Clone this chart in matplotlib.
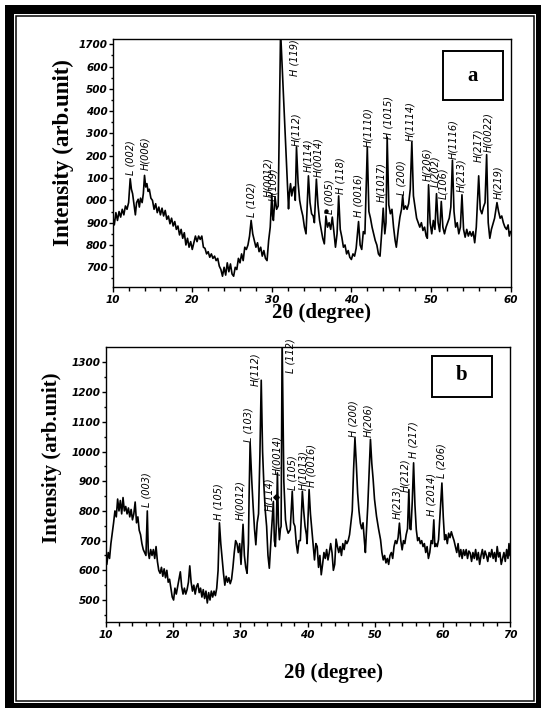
import matplotlib
matplotlib.use("Agg")
import matplotlib.pyplot as plt
from matplotlib.patches import Rectangle

W, H = 541, 708

# ---- panel a data (2theta, intensity) ----
a_x = [10.0, 10.2, 10.4, 10.6, 10.8, 11.0, 11.2, 11.4, 11.6, 11.8, 12.0, 12.2, 12.35, 12.5, 12.7, 12.85,
       13.0, 13.2, 13.35, 13.5, 13.7, 13.85, 14.0, 14.15, 14.3, 14.45, 14.6, 14.8, 15.0, 15.2, 15.4, 15.6,
       15.8, 16.0, 16.2, 16.4, 16.6, 16.8, 17.0, 17.2, 17.4, 17.6, 17.8, 18.0, 18.2, 18.4, 18.6, 18.8,
       19.0, 19.2, 19.4, 19.6, 19.8, 20.0, 20.2, 20.4, 20.6, 20.8, 21.0, 21.2, 21.4, 21.6, 21.8, 22.0,
       22.2, 22.4, 22.6, 22.8, 23.0, 23.2, 23.4, 23.6, 23.8, 24.0, 24.2, 24.4, 24.6, 24.8, 25.0, 25.2,
       25.4, 25.6, 25.8, 26.0, 26.2, 26.4, 26.6, 26.8, 27.0, 27.2, 27.4, 27.6, 27.8, 28.0, 28.2, 28.4,
       28.6, 28.8, 29.0, 29.2, 29.4, 29.6, 29.8, 30.0, 30.1, 30.2, 30.4, 30.6, 30.8, 31.1, 32.1, 32.2,
       32.35, 32.5, 32.65, 32.8, 32.95, 33.1, 33.3, 33.5, 33.7, 33.9, 34.1, 34.3, 34.6, 34.8, 35.0, 35.2,
       35.35, 35.6, 35.8, 36.0, 36.2, 36.4, 36.6, 36.8, 37.0, 37.2, 37.4, 37.6, 37.8, 38.0, 38.2, 38.4,
       38.6, 38.8, 39.0, 39.2, 39.4, 39.6, 39.8, 40.0, 40.2, 40.4, 40.6, 40.9, 41.1, 41.3, 41.5, 41.7,
       42.0, 42.2, 42.4, 42.6, 42.8, 43.0, 43.2, 43.4, 43.6, 43.8, 44.0, 44.2, 44.35, 44.5, 44.7, 44.9,
       45.1, 45.3, 45.5, 45.65, 45.9, 46.1, 46.3, 46.45, 46.6, 46.8, 47.0, 47.2, 47.4, 47.6, 47.8, 48.0,
       48.2, 48.4, 48.6, 48.8, 49.0, 49.2, 49.4, 49.55, 49.7, 49.9, 50.1, 50.3, 50.5, 50.7, 50.9, 51.1,
       51.3, 51.5, 51.7, 51.9, 52.1, 52.3, 52.5, 52.7, 52.9, 53.1, 53.3, 53.5, 53.7, 53.9, 54.1, 54.3,
       54.5, 54.7, 54.9, 55.1, 55.3, 55.5, 55.7, 56.0, 56.2, 56.4, 56.6, 56.8, 57.0, 57.2, 57.4, 57.6,
       57.8, 58.0, 58.3, 58.5, 58.7, 58.9, 59.1, 59.3, 59.5, 59.7, 59.85, 60.0]
a_y = [930, 890, 945, 910, 950, 925, 960, 935, 975, 960, 990, 1097, 1050, 1030, 975, 935,
       990, 1005, 970, 1010, 990, 1030, 1112, 1060, 1075, 1040, 1050, 1010, 1000, 960, 985, 945,
       970, 935, 965, 930, 955, 915, 930, 895, 920, 885, 905, 870, 885, 845, 870, 830,
       855, 800, 830, 790, 815, 780, 810, 840, 815, 840, 825, 840, 790, 785, 760, 770,
       745, 760, 740, 750, 730, 740, 705, 690, 660, 700, 665, 720, 680, 715, 670, 660,
       700, 690, 740, 720, 760, 730, 790, 780, 800, 840, 910, 850, 820, 790, 810, 770,
       790, 750, 775, 740, 730, 820, 880, 1030, 930, 910, 1015, 960, 975, 1760, 962, 1030,
       1075, 1020, 1050, 1060, 1000, 1240, 1080, 1000, 960, 930, 880, 850, 1110, 990, 940, 930,
       900, 1095, 980, 910, 870, 830, 805, 930, 880, 900, 870, 925, 860, 790, 850, 1020,
       870, 835, 790, 800, 760, 775, 745, 735, 760, 750, 785, 905, 800, 780, 860, 850,
       1238, 950, 920, 880, 850, 820, 800, 760, 750, 850, 965, 850, 900, 1283, 980, 940,
       960, 880, 820, 790, 870, 925, 960, 1022, 960, 975, 960, 985, 1050, 1262, 1020, 970,
       920, 900, 880, 900, 865, 880, 840, 830, 1070, 900, 850, 910, 870, 1030, 900, 860,
       995, 880, 850, 880, 900, 920, 970, 1180, 950, 880, 900, 850, 880, 1025, 870, 835,
       870, 840, 860, 840, 860, 810, 880, 1110, 960, 940, 970, 990, 1205, 900, 830, 870,
       895, 920, 990, 950, 920, 930, 900, 880, 870, 890, 840, 860]

a_lab_x = [12.2, 14.06, 27.47, 29.56, 30.2, 32.8, 33.1, 34.6, 35.84, 37.3, 38.57, 40.87, 42.13,
           43.8, 44.64, 46.3, 47.37, 49.5, 50.5, 51.55, 52.8, 53.87, 55.95, 57.2, 58.47]
a_lab_y = [1112, 1134, 925, 1015, 995, 1558, 1245, 1126, 1104, 940, 1030, 925, 1238,
           992, 1275, 1022, 1268, 1085, 1060, 1008, 1186, 1037, 1171, 1216, 1008]
a_labels = ["L (002)", "H(006)", "L (102)", "H(0012)", "H(109)", "H (119)", "H(112)", "H(114)",
            "H(0014)", "L (005)", "H (118)", "H (0016)", "H(1110)", "H(1017)", "H (1015)",
            "L (200)", "H(1114)", "H(206)", "L(202)", "L(106)", "H(1116)", "H(213)", "H(217)",
            "H(0022)", "H(219)"]
a_yticks = [700, 800, 900, 1000, 1100, 1200, 1300, 1400, 1500, 1600, 1700]
a_yticklabels = ["700", "800", "900", "000", "100", "200", "300", "400", "500", "600", "1700"]

# ---- panel b data ----
b_x = [10.0, 10.2, 10.4, 10.6, 10.8, 11.0, 11.2, 11.4, 11.6, 11.8, 12.0, 12.2, 12.4, 12.6, 12.8, 13.0,
       13.2, 13.4, 13.6, 13.8, 14.0, 14.2, 14.4, 14.6, 14.8, 15.0, 15.2, 15.4, 15.6, 15.8, 16.0, 16.2,
       16.35, 16.5, 16.7, 16.9, 17.1, 17.3, 17.5, 17.7, 17.9, 18.1, 18.3, 18.5, 18.7, 18.9, 19.1, 19.3,
       19.5, 19.7, 19.9, 20.1, 20.3, 20.5, 20.7, 20.9, 21.1, 21.3, 21.5, 21.7, 21.9, 22.1, 22.3, 22.5,
       22.7, 22.9, 23.1, 23.3, 23.5, 23.7, 23.9, 24.1, 24.3, 24.5, 24.7, 24.9, 25.1, 25.3, 25.5, 25.7,
       25.9, 26.1, 26.3, 26.5, 26.7, 26.9, 27.1, 27.3, 27.5, 27.7, 27.9, 28.1, 28.3, 28.5, 28.7, 28.9,
       29.1, 29.3, 29.5, 29.7, 29.9, 30.1, 30.4, 30.6, 30.8, 31.0, 31.2, 31.3, 31.45, 31.7, 31.9, 32.1,
       32.3, 32.5, 32.7, 32.9, 33.1, 33.3, 33.5, 33.7, 33.9, 34.1, 34.3, 34.6, 34.9, 35.05, 35.2, 35.35,
       35.5, 35.65, 35.8, 35.95, 36.05, 36.2, 36.45, 36.7, 36.9, 37.1, 37.4, 37.7, 37.9, 38.1, 38.3, 38.5,
       38.7, 38.9, 39.2, 39.4, 39.6, 39.8, 39.9, 40.2, 40.4, 40.6, 40.8, 41.0, 41.2, 41.4, 41.6, 41.8,
       42.0, 42.2, 42.4, 42.6, 42.8, 43.0, 43.2, 43.4, 43.6, 43.8, 44.0, 44.2, 44.4, 44.6, 44.8, 45.0,
       45.2, 45.4, 45.6, 45.8, 46.0, 46.2, 46.4, 46.6, 46.8, 47.0, 47.2, 47.4, 47.6, 47.8, 48.0, 48.2,
       48.4, 48.55, 48.7, 48.9, 49.1, 49.3, 49.5, 49.7, 49.9, 50.2, 50.5, 50.8, 51.0, 51.2, 51.4, 51.6,
       51.8, 52.0, 52.2, 52.4, 52.6, 52.8, 53.0, 53.2, 53.4, 53.6, 53.8, 54.0, 54.2, 54.4, 54.6, 54.8,
       55.0, 55.15, 55.3, 55.5, 55.7, 55.9, 56.1, 56.3, 56.5, 56.7, 56.9, 57.1, 57.3, 57.5, 57.7, 57.9,
       58.1, 58.3, 58.5, 58.7, 58.85, 59.0, 59.2, 59.4, 59.6, 59.9, 60.1, 60.3, 60.5, 60.7, 60.9, 61.1,
       61.3, 61.5, 61.7, 61.9, 62.1, 62.3, 62.5, 62.7, 62.9, 63.1, 63.3, 63.5, 63.7, 63.9, 64.1, 64.3,
       64.5, 64.7, 64.9, 65.1, 65.3, 65.5, 65.7, 65.9, 66.1, 66.3, 66.5, 66.7, 66.9, 67.1, 67.3, 67.5,
       67.7, 67.9, 68.1, 68.3, 68.5, 68.7, 68.9, 69.1, 69.3, 69.5, 69.7, 69.85, 70.0]
b_y = [650, 620, 660, 640, 690, 725, 760, 800, 780, 840, 800, 835, 790, 845, 800, 815,
       790, 810, 780, 805, 770, 790, 830, 760, 780, 735, 720, 690, 670, 660, 650, 800,
       660, 640, 670, 650, 670, 640, 680, 630, 600, 590, 610, 580, 605, 575, 600, 560,
       570, 540, 510, 500, 540, 520, 545, 570, 595, 545, 520, 540, 520, 535, 560, 615,
       560, 530, 550, 520, 545, 555, 525, 540, 510, 535, 505, 530, 490, 525, 500, 530,
       510, 530, 515, 540, 600, 760, 690, 640, 590, 550, 580, 560, 575, 555, 570, 610,
       660, 700, 690, 660, 690, 620, 755, 650, 610, 590, 690, 850, 1030, 900, 815, 740,
       686, 760, 790, 985, 1240, 1000, 883, 800, 748, 650, 607, 725, 832, 700, 680, 760,
       928, 760, 703, 740, 748, 1380, 900, 770, 740, 725, 737, 866, 760, 748, 690, 658,
       700, 700, 866, 800, 748, 720, 690, 872, 790, 737, 680, 635, 690, 680, 610, 650,
       585, 620, 660, 640, 670, 635, 660, 690, 660, 600, 620, 705, 680, 660, 680, 650,
       690, 670, 700, 690, 700, 720, 760, 800, 940, 1046, 960, 860, 800, 759, 740, 760,
       700, 660, 730, 815, 930, 1041, 960, 906, 840, 782, 740, 703, 660, 635, 650, 625,
       640, 620, 650, 660, 640, 680, 700, 690, 710, 759, 700, 669, 700, 690, 720, 740,
       872, 740, 737, 830, 962, 820, 737, 700, 710, 690, 700, 680, 690, 660, 680, 640,
       660, 700, 690, 770, 680, 690, 680, 703, 780, 894, 780, 703, 720, 690, 725, 710,
       730, 714, 700, 680, 660, 690, 646, 670, 640, 669, 650, 670, 640, 665, 658, 630,
       660, 640, 670, 635, 660, 620, 650, 670, 640, 665, 650, 630, 660, 645, 670, 640,
       660, 630, 680, 645, 660, 620, 640, 660, 630, 670, 640, 690, 650]

b_lab_x = [16.1, 26.7, 29.95, 31.2, 32.2, 34.3, 35.4, 37.4, 37.8, 39.35, 40.6, 46.76, 49.0,
           53.2, 54.43, 55.66, 58.4, 59.87]
b_lab_y = [814, 769, 769, 1033, 1220, 800, 921, 1264, 870, 870, 881, 1050, 1050,
           774, 865, 977, 784, 910]
b_labels = ["L (003)", "H (105)", "H(0012)", "L (103)", "H(112)", "H(114)", "H(0014)", "L (112)",
            "L (105)", "H(1013)", "H (0016)", "H (200)", "H(206)", "H(213)", "H(212)", "H (217)",
            "H (2014)", "L (206)"]
b_yticks = [500, 600, 700, 800, 900, 1000, 1100, 1200, 1300]

serif = ["Liberation Serif", "DejaVu Serif"]
sans = ["DejaVu Sans"]

fig = plt.figure(figsize=(W / 100, H / 100), dpi=100)


def px_rect(x0, y0, x1, y1, lw, fill=False):
    r = Rectangle((x0 / W, 1 - y1 / H), (x1 - x0) / W, (y1 - y0) / H,
                  transform=fig.transFigure, fill=fill, facecolor="black" if fill else "none",
                  edgecolor="black", linewidth=lw, zorder=10)
    fig.add_artist(r)


def style_axes(ax, xmaj, xmin, ymaj, ymin):
    ax.set_xticks(xmaj)
    ax.set_xticks(xmin, minor=True)
    ax.set_yticks(ymaj)
    ax.set_yticks(ymin, minor=True)
    for s in ax.spines.values():
        s.set_linewidth(1.0)
    ax.tick_params(axis="x", which="major", direction="out", length=3.3, width=1.0, pad=3)
    ax.tick_params(axis="x", which="minor", direction="out", length=2.8, width=1.0)
    ax.tick_params(axis="y", which="major", direction="out", length=3.0, width=1.0, pad=0.5)
    ax.tick_params(axis="y", which="minor", direction="out", length=1.8, width=1.0)
    for lab in ax.get_xticklabels() + ax.get_yticklabels():
        lab.set_fontfamily(sans)
        lab.set_fontstyle("italic")
        lab.set_fontweight("bold")
        lab.set_fontsize(7.5)


# ---- panel a ----
ax1 = fig.add_axes([112.7 / W, 1 - 286.7 / H, (510.5 - 112.7) / W, (286.7 - 39.3) / H])
ax1.plot(a_x, a_y, color="black", lw=1.2)
ax1.set_xlim(10, 60)
ax1.set_ylim(613, 1722)
style_axes(ax1, list(range(10, 61, 10)), list(range(10, 61, 2)),
           a_yticks, list(range(650, 1701, 50)))
ax1.set_yticklabels(a_yticklabels)
for lab in ax1.get_yticklabels():
    lab.set_fontfamily(sans)
    lab.set_fontstyle("italic")
    lab.set_fontweight("bold")
    lab.set_fontsize(7.5)
for x, y, t in zip(a_lab_x, a_lab_y, a_labels):
    ax1.text(x, y, t, rotation=90, ha="center", va="bottom", fontsize=7,
             fontstyle="italic", family=sans)
ax1.plot([36.8], [951], "o", color="black", ms=2.2)

# ---- panel b ----
ax2 = fig.add_axes([105.5 / W, 1 - 621.7 / H, (510 - 105.5) / W, (621.7 - 347.3) / H])
ax2.plot(b_x, b_y, color="black", lw=1.2)
ax2.set_xlim(10, 70)
ax2.set_ylim(427, 1351)
style_axes(ax2, list(range(10, 71, 10)), list(range(10, 71, 2)),
           b_yticks, list(range(450, 1301, 50)))
for x, y, t in zip(b_lab_x, b_lab_y, b_labels):
    ax2.text(x, y, t, rotation=90, ha="center", va="bottom", fontsize=7,
             fontstyle="italic", family=sans)
ax2.plot([35.3], [848], "D", color="black", ms=2.8)

# ---- axis titles ----
fig.text(321 / W, 1 - 313 / H, "2θ (degree)", ha="center", va="center",
         fontsize=15, fontweight="bold", family=serif)
fig.text(333 / W, 1 - 673 / H, "2θ (degree)", ha="center", va="center",
         fontsize=15, fontweight="bold", family=serif)
fig.text(63 / W, 1 - 152.5 / H, "Intensity (arb.unit)", rotation=90, ha="center", va="center",
         fontsize=16.5, fontweight="bold", family=serif)
fig.text(52 / W, 1 - 458 / H, "Intensity (arb.unit)", rotation=90, ha="center", va="center",
         fontsize=15, fontweight="bold", family=serif)

# ---- panel letter boxes ----
px_rect(443, 51, 503, 99.5, 1.4)
fig.text(473 / W, 1 - 76 / H, "a", ha="center", va="center", fontsize=15,
         fontweight="bold", family=serif)
px_rect(431.7, 355.7, 492.3, 396.7, 1.4)
fig.text(462 / W, 1 - 375 / H, "b", ha="center", va="center", fontsize=15,
         fontweight="bold", family=serif)

# ---- double frame ----
px_rect(8.5, 8.5, 540, 707, 9 * 0.72)
px_rect(16, 16, 533.5, 700.5, 1.5 * 0.72)

fig.savefig("out.png", dpi=100)
